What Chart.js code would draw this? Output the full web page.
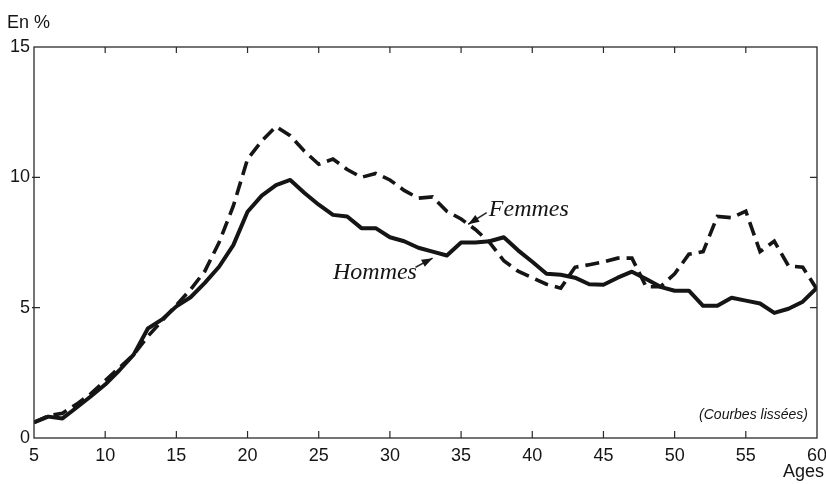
<!DOCTYPE html>
<html>
<head>
<meta charset="utf-8">
<script src="https://cdn.jsdelivr.net/npm/chart.js@4"></script>
<style>
html,body{margin:0;padding:0;background:#fff;}
canvas{display:block;}
</style>
</head>
<body>
<canvas id="c" width="826" height="484"></canvas>
<script>
const ages = [5,6,7,8,9,10,11,12,13,14,15,16,17,18,19,20,21,22,23,24,25,26,27,28,29,30,31,32,33,34,35,36,37,38,39,40,41,42,43,44,45,46,47,48,49,50,51,52,53,54,55,56,57,58,59,60];
const hommes = [0.6,0.82,0.75,1.17,1.6,2.05,2.6,3.2,4.2,4.55,5.05,5.4,5.95,6.57,7.4,8.68,9.3,9.7,9.9,9.4,8.95,8.56,8.5,8.05,8.05,7.7,7.55,7.3,7.15,7.0,7.5,7.5,7.55,7.7,7.2,6.76,6.3,6.26,6.15,5.9,5.88,6.15,6.38,6.1,5.8,5.65,5.65,5.07,5.07,5.38,5.27,5.16,4.8,4.96,5.23,5.77];
const femmes = [0.6,0.85,0.95,1.3,1.7,2.2,2.7,3.2,3.9,4.5,5.1,5.7,6.4,7.5,8.9,10.7,11.4,11.95,11.6,11.0,10.5,10.7,10.3,10.0,10.15,9.9,9.5,9.2,9.25,8.7,8.4,8.0,7.5,6.8,6.4,6.15,5.9,5.75,6.55,6.65,6.75,6.9,6.9,5.8,5.8,6.3,7.05,7.15,8.5,8.45,8.7,7.15,7.55,6.6,6.55,5.7];
const xTicks = [5,10,15,20,25,30,35,40,45,50,55,60];
const yTicks = [0,5,10,15];

const ink = '#151515';

const framePlugin = {
  id: 'frame',
  afterDraw(chart) {
    const ctx = chart.ctx;
    const a = chart.chartArea;
    const xs = chart.scales.x, ys = chart.scales.y;
    ctx.save();
    ctx.strokeStyle = '#2a2a2a';
    ctx.lineWidth = 1.3;
    ctx.strokeRect(a.left, a.top, a.right - a.left, a.bottom - a.top);
    ctx.lineWidth = 1.2;
    xTicks.slice(1, -1).forEach(v => {
      const px = xs.getPixelForValue(v);
      ctx.beginPath();
      ctx.moveTo(px, a.bottom); ctx.lineTo(px, a.bottom - 7);
      ctx.moveTo(px, a.top); ctx.lineTo(px, a.top + 6);
      ctx.stroke();
    });
    yTicks.slice(1, -1).forEach(v => {
      const py = ys.getPixelForValue(v);
      ctx.beginPath();
      ctx.moveTo(a.left - 2, py); ctx.lineTo(a.left + 6, py);
      ctx.moveTo(a.right, py); ctx.lineTo(a.right - 7, py);
      ctx.stroke();
    });

    ctx.fillStyle = ink;
    ctx.font = '18px "Liberation Sans", Arial, sans-serif';
    ctx.textAlign = 'left';
    ctx.textBaseline = 'alphabetic';
    ctx.fillText('En %', 7, 28);
    ctx.textAlign = 'right';
    ctx.fillText('Ages', 824, 477);
    ctx.font = 'italic 14px "Liberation Sans", Arial, sans-serif';
    ctx.fillText('(Courbes lissées)', 808, 419);

    // annotations
    ctx.font = 'italic 24px "Liberation Serif", "Times New Roman", serif';
    ctx.textAlign = 'left';
    const fx = xs.getPixelForValue(36.95), fy = ys.getPixelForValue(8.5);
    ctx.fillText('Femmes', fx, fy);
    const hx = xs.getPixelForValue(26.0), hy = ys.getPixelForValue(6.1);
    ctx.fillText('Hommes', hx, hy);

    function arrow(x1, y1, x2, y2) {
      ctx.beginPath();
      ctx.lineWidth = 1.5;
      ctx.moveTo(x1, y1); ctx.lineTo(x2, y2);
      ctx.stroke();
      const ang = Math.atan2(y2 - y1, x2 - x1);
      const L = 11, W = 4;
      ctx.beginPath();
      ctx.moveTo(x2, y2);
      ctx.lineTo(x2 - L * Math.cos(ang) + W * Math.sin(ang), y2 - L * Math.sin(ang) - W * Math.cos(ang));
      ctx.lineTo(x2 - L * Math.cos(ang) - W * Math.sin(ang), y2 - L * Math.sin(ang) + W * Math.cos(ang));
      ctx.closePath();
      ctx.fill();
    }
    arrow(xs.getPixelForValue(36.8), ys.getPixelForValue(8.65), xs.getPixelForValue(35.5), ys.getPixelForValue(8.2));
    arrow(xs.getPixelForValue(31.8), ys.getPixelForValue(6.55), xs.getPixelForValue(33.0), ys.getPixelForValue(6.9));
    ctx.restore();
  }
};

const tickFont = { family: '"Liberation Sans", Arial, sans-serif', size: 18 };

new Chart(document.getElementById('c'), {
  type: 'line',
  data: {
    datasets: [
      {
        label: 'Hommes',
        data: ages.map((a, i) => ({ x: a, y: hommes[i] })),
        borderColor: ink,
        borderWidth: 4,
        pointRadius: 0,
        tension: 0,
        fill: false,
        borderJoinStyle: 'round'
      },
      {
        label: 'Femmes',
        data: ages.map((a, i) => ({ x: a, y: femmes[i] })),
        borderColor: ink,
        borderWidth: 3.6,
        borderDash: [14, 7],
        pointRadius: 0,
        tension: 0,
        fill: false
      }
    ]
  },
  options: {
    responsive: false,
    animation: false,
    layout: { padding: { top: 47, right: 9, left: 0, bottom: 0 } },
    plugins: { legend: { display: false }, tooltip: { enabled: false } },
    scales: {
      x: {
        type: 'linear', min: 5, max: 60,
        afterBuildTicks: s => { s.ticks = xTicks.map(v => ({ value: v })); },
        ticks: { font: tickFont, color: ink, padding: 7, maxRotation: 0, autoSkip: false },
        grid: { display: false, drawTicks: false },
        border: { display: false },
        afterFit: s => { s.height = 46; s.paddingLeft = 0; s.paddingRight = 0; }
      },
      y: {
        min: 0, max: 15,
        afterBuildTicks: s => { s.ticks = yTicks.map(v => ({ value: v })); },
        ticks: { font: tickFont, color: ink, padding: 4 },
        grid: { display: false, drawTicks: false },
        border: { display: false },
        afterFit: s => { s.width = 34; s.paddingTop = 0; s.paddingBottom = 0; }
      }
    }
  },
  plugins: [framePlugin]
});
</script>
</body>
</html>
